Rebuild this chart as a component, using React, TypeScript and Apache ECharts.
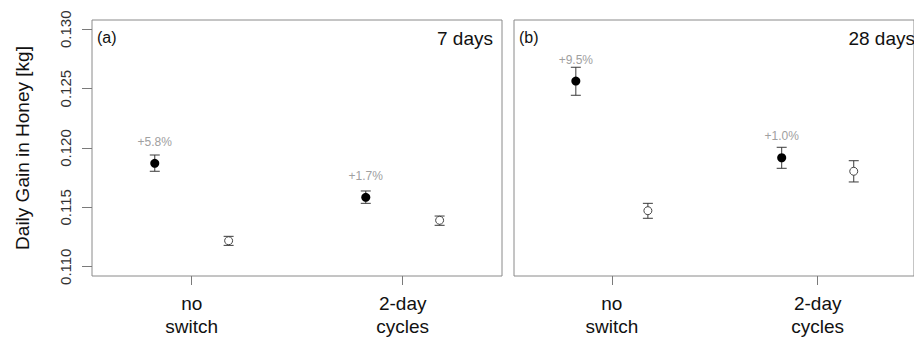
import React, { useEffect, useRef } from "react";
import * as echarts from "echarts";

// ---- data ----
const categories = ["no\nswitch", "2-day\ncycles"];
const panelTags = ["(a)", "(b)"];
const panelTitles = ["7 days", "28 days"];
const yTicks = [0.11, 0.115, 0.12, 0.125, 0.13];

// panel (a) 7 days
const filledMean7 = [0.11871, 0.11585];
const filledLow7 = [0.11804, 0.11534];
const filledHigh7 = [0.11941, 0.11638];
const openMean7 = [0.11219, 0.11391];
const openLow7 = [0.1118, 0.11349];
const openHigh7 = [0.11256, 0.11427];
const gain7 = ["+5.8%", "+1.7%"];

// panel (b) 28 days
const filledMean28 = [0.12564, 0.11918];
const filledLow28 = [0.12444, 0.11829];
const filledHigh28 = [0.1268, 0.12006];
const openMean28 = [0.11472, 0.11804];
const openLow28 = [0.11408, 0.11714];
const openHigh28 = [0.11534, 0.11893];
const gain28 = ["+9.5%", "+1.0%"];

const panels = [
  { fm: filledMean7, fl: filledLow7, fh: filledHigh7, om: openMean7, ol: openLow7, oh: openHigh7, gain: gain7 },
  { fm: filledMean28, fl: filledLow28, fh: filledHigh28, om: openMean28, ol: openLow28, oh: openHigh28, gain: gain28 },
];

const DODGE = 0.175;
const FONT = "Liberation Sans, Arial, sans-serif";
const BAR = "#3a3a3a";

export default function App() {
  const ref = useRef<HTMLDivElement>(null);
  useEffect(() => {
    document.body.style.margin = "0";
    const chart = echarts.init(ref.current!, null, { renderer: "svg" });

    const errRender = (params: any, api: any) => {
      const x = api.value(0);
      const lo = api.coord([x, api.value(1)]);
      const hi = api.coord([x, api.value(2)]);
      const w = 5;
      const style = { stroke: BAR, lineWidth: 1 };
      return {
        type: "group",
        children: [
          { type: "line", shape: { x1: lo[0], y1: lo[1], x2: hi[0], y2: hi[1] }, style },
          { type: "line", shape: { x1: lo[0] - w, y1: lo[1], x2: lo[0] + w, y2: lo[1] }, style },
          { type: "line", shape: { x1: hi[0] - w, y1: hi[1], x2: hi[0] + w, y2: hi[1] }, style },
        ],
      };
    };

    const grids = [
      { left: 92, top: 20, width: 410, height: 256 },
      { left: 514, top: 20, width: 410, height: 256 },
    ].map((g) => ({ ...g, show: true, borderColor: "#8a8a8a", borderWidth: 1, backgroundColor: "transparent" }));

    const xMins = [0.5275, 0.5246];
    const xAxes = [0, 1].map((i) => ({
      type: "value",
      gridIndex: i,
      min: xMins[i],
      max: xMins[i] + 410 / 211,
      splitLine: { show: false },
      axisLine: { show: false },
      axisTick: { show: true, length: 9, lineStyle: { color: "#7a7a7a" }, customValues: [1, 2] },
      axisLabel: {
        show: true,
        customValues: [1, 2],
        formatter: (v: number) => categories[Math.round(v) - 1],
        fontSize: 19,
        lineHeight: 23,
        color: "#111",
        fontFamily: FONT,
        margin: 16,
      },
    }));

    const yAxes = [0, 1].map((i) => ({
      type: "value",
      gridIndex: i,
      min: 0.10922,
      max: 0.13078,
      splitLine: { show: false },
      axisLine: { show: false },
      name: i === 0 ? "Daily Gain in Honey [kg]" : "",
      nameLocation: "middle",
      nameRotate: 90,
      nameGap: 60,
      nameTextStyle: { fontSize: 19, color: "#111", fontFamily: FONT },
      axisTick: { show: i === 0, length: 10, lineStyle: { color: "#7a7a7a" }, customValues: yTicks },
      axisLabel: {
        show: i === 0,
        customValues: yTicks,
        rotate: 90,
        formatter: (v: number) => v.toFixed(3),
        fontSize: 15,
        color: "#333",
        fontFamily: FONT,
        margin: 19,
      },
    }));

    const series: any[] = [];
    panels.forEach((p, i) => {
      series.push({
        type: "custom",
        xAxisIndex: i,
        yAxisIndex: i,
        renderItem: errRender,
        encode: { x: 0, y: [1, 2] },
        data: [0, 1].map((k) => [k + 1 - DODGE, p.fl[k], p.fh[k]]),
        z: 2,
      });
      series.push({
        type: "custom",
        xAxisIndex: i,
        yAxisIndex: i,
        renderItem: errRender,
        encode: { x: 0, y: [1, 2] },
        data: [0, 1].map((k) => [k + 1 + DODGE, p.ol[k], p.oh[k]]),
        z: 2,
      });
      series.push({
        type: "scatter",
        xAxisIndex: i,
        yAxisIndex: i,
        symbol: "circle",
        symbolSize: 9,
        itemStyle: { color: "#000", opacity: 1 },
        data: [0, 1].map((k) => [k + 1 - DODGE, p.fm[k]]),
        label: {
          show: true,
          position: "top",
          distance: 11,
          formatter: (d: any) => p.gain[d.dataIndex],
          fontSize: 12,
          color: "#a0a0a0",
          fontFamily: FONT,
        },
        z: 3,
      });
      series.push({
        type: "scatter",
        xAxisIndex: i,
        yAxisIndex: i,
        symbol: "circle",
        symbolSize: 8,
        itemStyle: { color: "#fff", borderColor: "#444", borderWidth: 1, opacity: 1 },
        data: [0, 1].map((k) => [k + 1 + DODGE, p.om[k]]),
        z: 3,
      });
    });

    const graphic: any[] = [];
    [92, 514].forEach((left, i) => {
      graphic.push({
        type: "text",
        left: left + 5,
        top: 29,
        style: { text: panelTags[i], fontSize: 16, fill: "#111", fontFamily: FONT },
      });
      graphic.push({
        type: "text",
        x: left + 410 - 9,
        y: 38,
        style: {
          text: panelTitles[i],
          fontSize: 19,
          fill: "#111",
          fontFamily: FONT,
          align: "right",
          verticalAlign: "middle",
        },
      });
    });

    chart.setOption({
      animation: false,
      backgroundColor: "#fff",
      grid: grids,
      xAxis: xAxes,
      yAxis: yAxes,
      series,
      graphic,
    });
    return () => chart.dispose();
  }, []);
  return <div ref={ref} style={{ width: 914, height: 342 }} />;
}
